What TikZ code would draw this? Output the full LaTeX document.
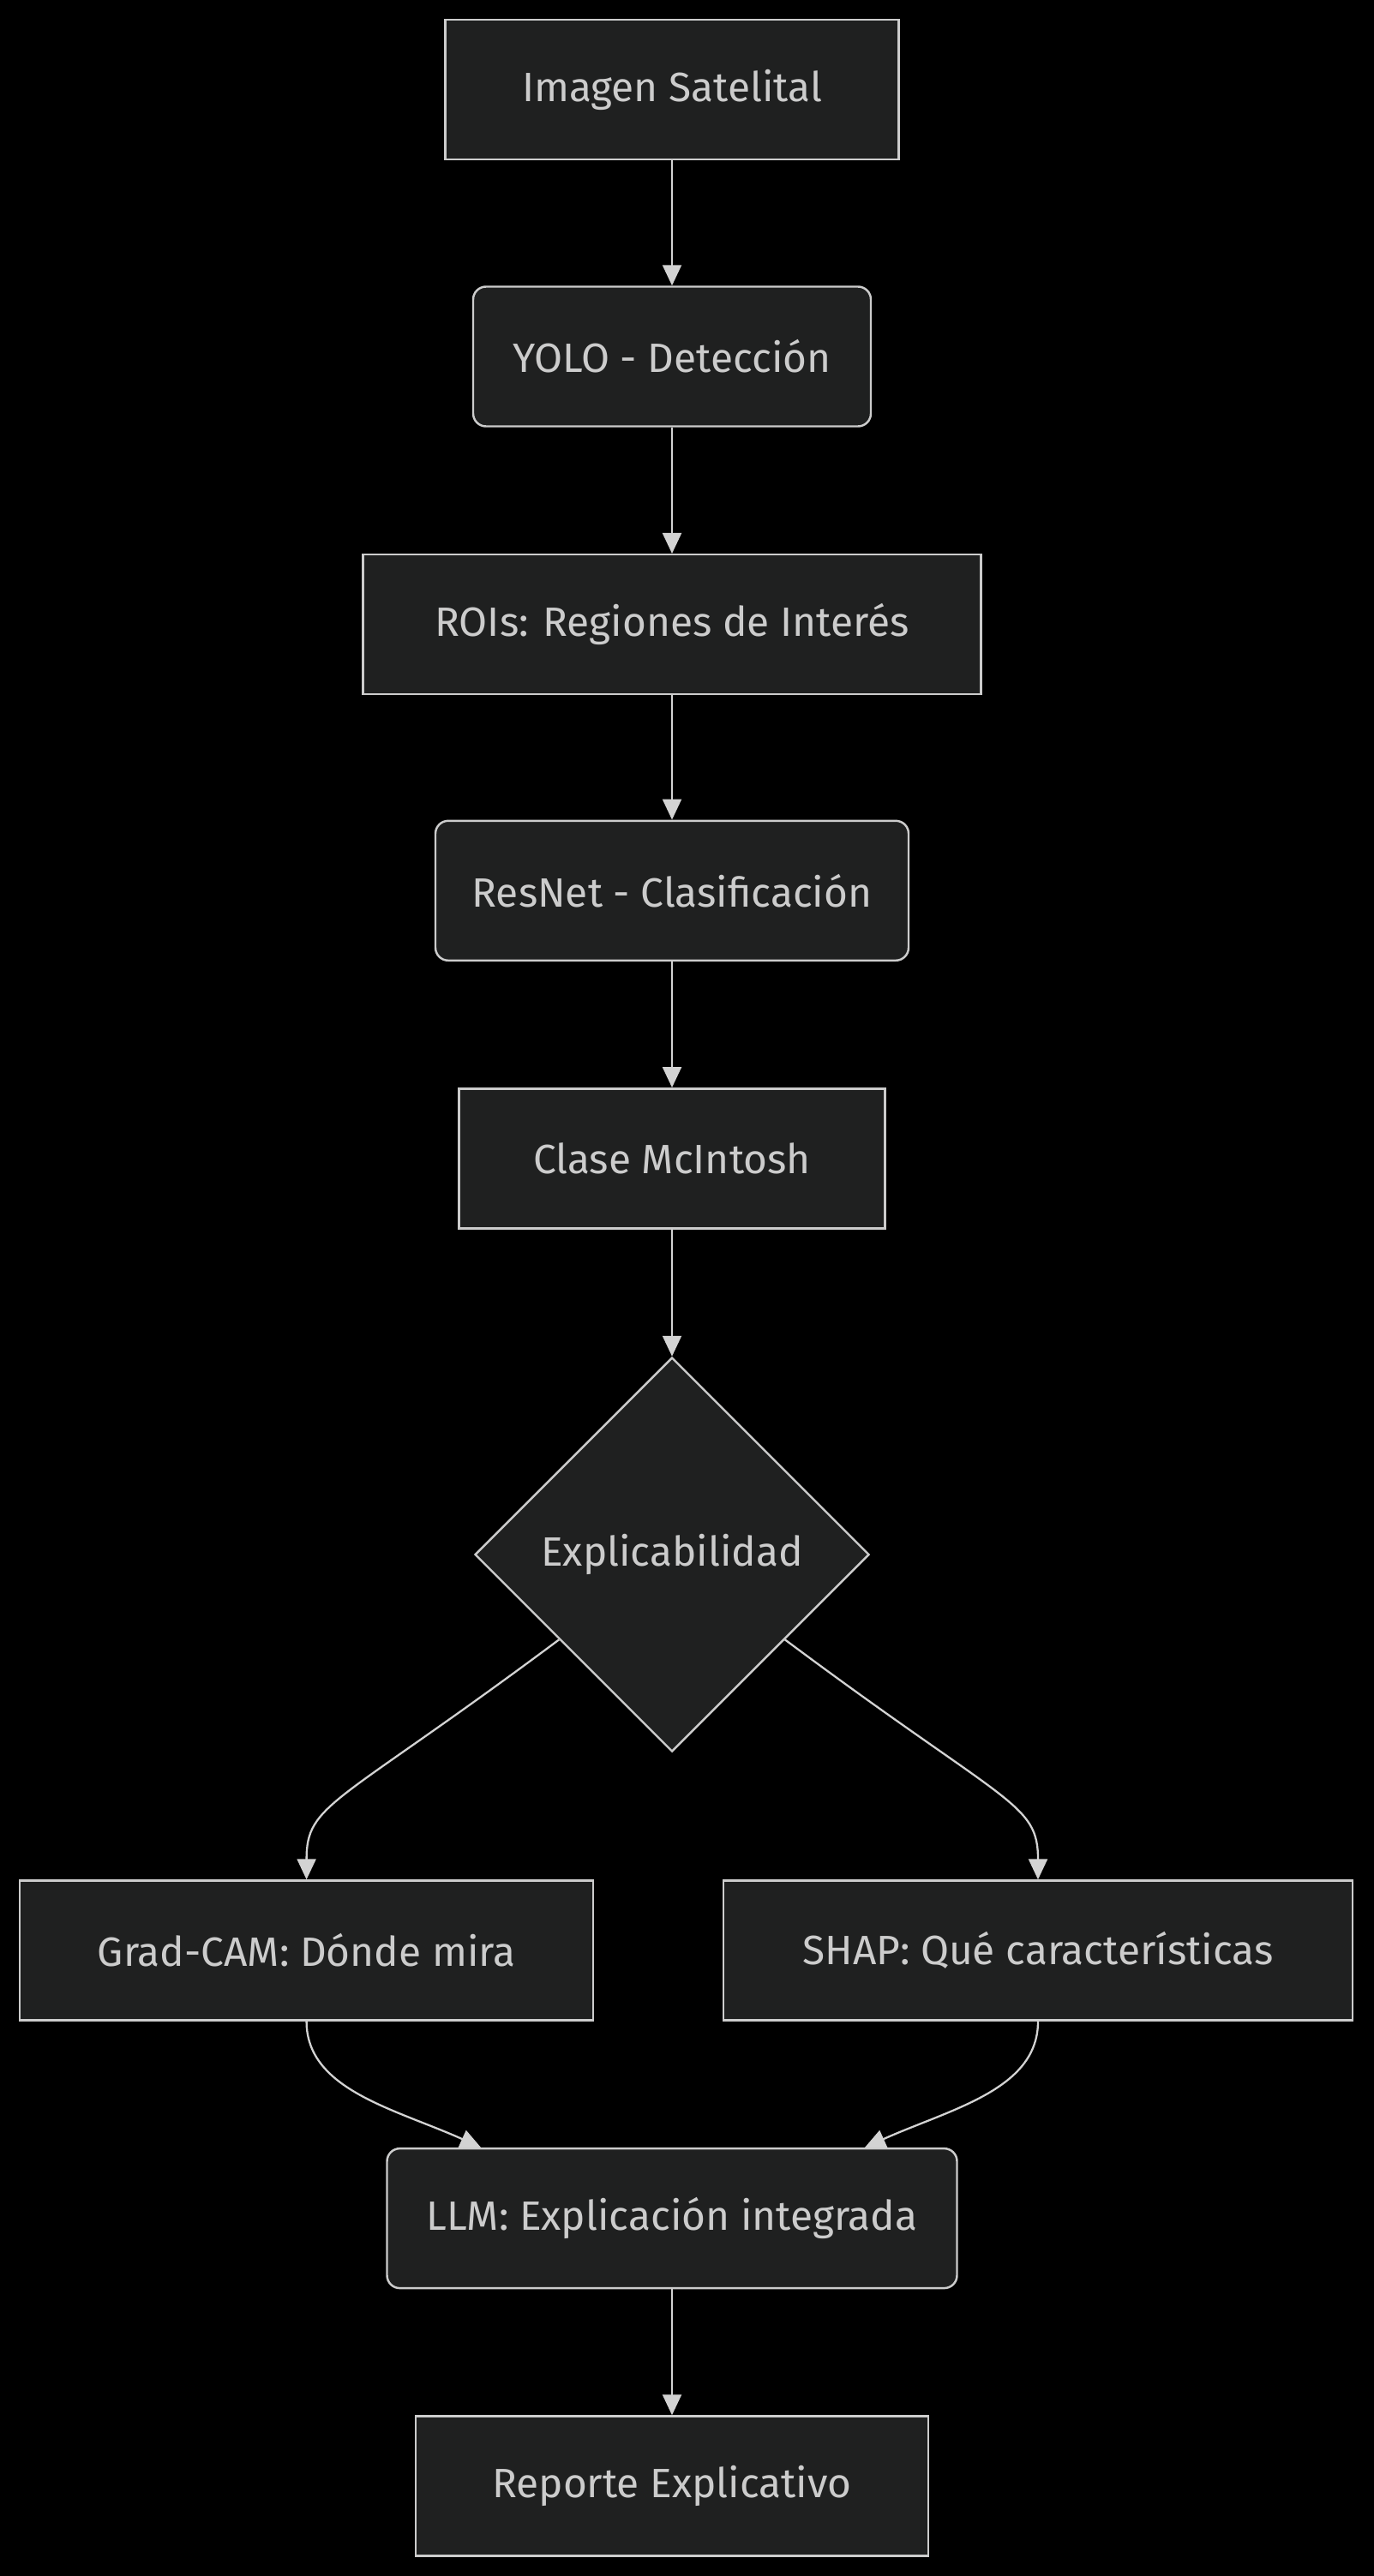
\documentclass[tikz,border=0pt]{standalone}
\usepackage{fontspec}
\setmainfont{Fira Sans}
\usetikzlibrary{arrows.meta,shapes.geometric}
\definecolor{nodefill}{HTML}{1F2020}
\definecolor{nodeline}{HTML}{CCCCCC}
\definecolor{nodetext}{HTML}{CCCCCC}
\definecolor{edgeline}{HTML}{D3D3D3}

\begin{document}
\begin{tikzpicture}[
    box/.style={draw=nodeline, fill=nodefill, text=nodetext, line width=0.7pt, minimum height=1.63cm, inner sep=0pt},
    rbox/.style={box, rounded corners=0.15cm},
    decision/.style={diamond, draw=nodeline, fill=nodefill, text=nodetext, line width=0.7pt, minimum width=4.6cm, minimum height=4.6cm, inner sep=0pt},
    arr/.style={-{Triangle[length=0.24cm, width=0.22cm]}, line width=0.65pt, draw=edgeline},
    every node/.style={font=\fontsize{13.6pt}{16pt}\selectfont},
]
% background and page size
\fill[black] (0,0) rectangle (16.03,-30.06);
\useasboundingbox (0,0) rectangle (16.03,-30.06);

% === Main pipeline ===
\node[box, minimum width=5.29cm] (img) at (7.84, -1.045) {Imagen Satelital};
\node[rbox, minimum width=4.64cm] (yolo) at (7.84, -4.16) {YOLO - Detección};
\node[box, minimum width=7.21cm] (rois) at (7.84, -7.287) {ROIs: Regiones de Interés};
\node[rbox, minimum width=5.52cm] (resnet) at (7.84, -10.393) {ResNet - Clasificación};
\node[box, minimum width=4.97cm] (clase) at (7.84, -13.518) {Clase McIntosh};
\node[decision] (expl) at (7.84, -18.14) {Explicabilidad};

% === Explanation branches ===
\node[box, minimum width=6.69cm] (grad) at (3.576, -22.76) {Grad-CAM: Dónde mira};
\node[box, minimum width=7.34cm] (shap) at (12.11, -22.76) {SHAP: Qué características};

\node[rbox, minimum width=6.65cm] (llm) at (7.84, -25.886) {LLM: Explicación integrada};
\node[box, minimum width=5.98cm] (rep) at (7.84, -29.01) {Reporte Explicativo};

\draw[arr] (img) -- (yolo);
\draw[arr] (yolo) -- (rois);
\draw[arr] (rois) -- (resnet);
\draw[arr] (resnet) -- (clase);
\draw[arr] (clase) -- (expl);

% Branches
\draw[arr] (expl.217) .. controls +(-2.6,-1.94) and +(0,0.9) .. (grad.north);
\draw[arr] (expl.-37) .. controls +(2.6,-1.94) and +(0,0.9) .. (shap.north);

% Merge
\draw[arr] (grad.south) .. controls +(0,-0.8) and +(-1.0,0.45) .. ([xshift=-2.23cm]llm.north);
\draw[arr] (shap.south) .. controls +(0,-0.8) and +(1.0,0.45) .. ([xshift=2.25cm]llm.north);

\draw[arr] (llm) -- (rep);

\end{tikzpicture}
\end{document}
